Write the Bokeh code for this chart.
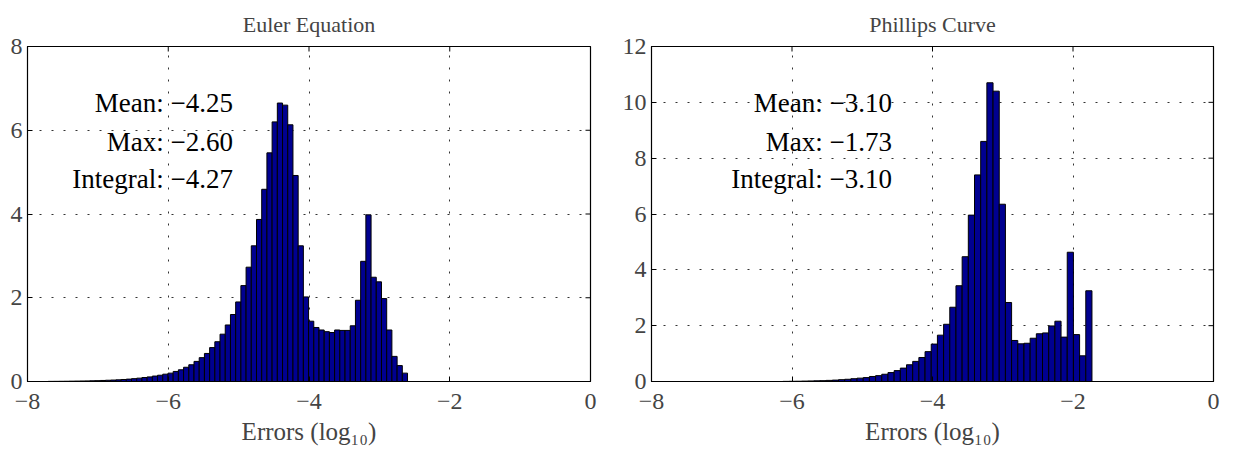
import math
from bokeh.plotting import figure
from bokeh.models import ColumnDataSource, FixedTicker, Range1d
from bokeh.layouts import row
from bokeh.embed import file_html
from bokeh.resources import INLINE
from bokeh.core.properties import value

# ---------------- data ----------------
titles = ["Euler Equation", "Phillips Curve"]
x_label = "Errors (log\u2081\u2080)"
x_ticks = [-8, -6, -4, -2, 0]
euler_y_ticks = [0, 2, 4, 6, 8]
phillips_y_ticks = [0, 2, 4, 6, 8, 10, 12]

stat_names = ["Mean", "Max", "Integral"]
euler_stats = [-4.25, -2.60, -4.27]
phillips_stats = [-3.10, -1.73, -3.10]

# histogram bar heights (left to right); last bin ends at the max error
euler_heights = [0.003, 0.004, 0.005, 0.006, 0.008, 0.010, 0.012, 0.014, 0.017, 0.020,
                 0.025, 0.030, 0.035, 0.040, 0.048, 0.057, 0.068, 0.080, 0.095, 0.11,
                 0.13, 0.15, 0.175, 0.20, 0.24, 0.28, 0.34, 0.40, 0.48, 0.57,
                 0.67, 0.81, 0.95, 1.13, 1.35, 1.60, 1.90, 2.29, 2.73, 3.24,
                 3.87, 4.59, 5.46, 6.20, 6.65, 6.60, 6.13, 4.92, 3.24, 2.02,
                 1.44, 1.29, 1.23, 1.19, 1.17, 1.23, 1.22, 1.22, 1.33, 1.94,
                 2.87, 3.98, 2.49, 2.38, 1.98, 1.23, 0.60, 0.38, 0.20]
euler_bin_width = 0.074

phillips_heights = [0.005, 0.008, 0.010, 0.015, 0.020, 0.025, 0.030, 0.040, 0.050, 0.065,
                    0.08, 0.10, 0.12, 0.14, 0.18, 0.21, 0.26, 0.32, 0.39, 0.48,
                    0.60, 0.72, 0.86, 1.07, 1.34, 1.66, 2.05, 2.66, 3.43, 4.47,
                    5.96, 7.40, 8.60, 10.70, 10.40, 6.35, 2.83, 1.47, 1.35, 1.37,
                    1.55, 1.71, 1.74, 1.99, 2.16, 1.59, 4.63, 1.68, 0.92, 3.25]
phillips_bin_width = 0.088

FONT = "Times"
TEXT_Y_FRAC = [0.830, 0.714, 0.603]


def fmt(v):
    return f"{v:.2f}".replace("-", "\u2212")


def tick_label(t):
    return str(t).replace("-", "\u2212")


def make_panel(title, heights, xmax, w, y_ticks, stats, text_x_frac,
               frame_w, border_left, border_right):
    n = len(heights)
    rights = [xmax - w * (n - 1 - i) for i in range(n)]
    lefts = [r - w for r in rights]
    ymax = y_ticks[-1]
    xmin_axis, xmax_axis = x_ticks[0], x_ticks[-1]

    p = figure(frame_width=frame_w, frame_height=335,
               x_range=Range1d(xmin_axis, xmax_axis), y_range=Range1d(0, ymax),
               output_backend="svg", toolbar_location=None,
               min_border_left=border_left, min_border_right=border_right,
               min_border_top=45, min_border_bottom=64)
    p.background_fill_color = "white"
    p.border_fill_color = "white"
    p.outline_line_color = "black"
    p.outline_line_width = 1.2

    p.title.text = title
    p.title.align = "center"
    p.title.text_font = FONT
    p.title.text_font_style = "normal"
    p.title.text_font_size = "22px"
    p.title.standoff = 19

    src = ColumnDataSource(dict(left=lefts, right=rights, top=heights, bottom=[0] * n))
    p.quad(left="left", right="right", top="top", bottom="bottom", source=src,
           fill_color="#000090", line_color="black", line_width=1)

    # inward tick marks on the top and right edges of the box
    top_src = ColumnDataSource(dict(x=x_ticks, y=[ymax] * len(x_ticks)))
    p.scatter(x="x", y="y", source=top_src, marker="dash", size=10, angle=math.pi / 2,
              line_color="black", line_width=1)
    right_src = ColumnDataSource(dict(x=[xmax_axis] * len(y_ticks), y=y_ticks))
    p.scatter(x="x", y="y", source=right_src, marker="dash", size=10,
              line_color="black", line_width=1)

    # stats text
    tx = xmin_axis + (xmax_axis - xmin_axis) * text_x_frac
    tsrc = ColumnDataSource(dict(
        x=[tx] * 3,
        y=[f * ymax for f in TEXT_Y_FRAC],
        text=[f"{nm}: {fmt(v)}" for nm, v in zip(stat_names, stats)]))
    p.text(x="x", y="y", text="text", source=tsrc, text_align="right",
           text_baseline="alphabetic", text_font=value(FONT),
           text_font_size="27px", text_color="black")

    for ax in (p.xaxis[0], p.yaxis[0]):
        ax.major_label_text_font = FONT
        ax.major_label_text_font_size = "24px"
        ax.major_tick_in = 5
        ax.major_tick_out = 0
        ax.minor_tick_in = 0
        ax.minor_tick_out = 0
        ax.axis_line_color = "black"
        ax.major_tick_line_color = "black"

    p.xaxis.ticker = FixedTicker(ticks=x_ticks)
    p.xaxis.major_label_overrides = {t: tick_label(t) for t in x_ticks}
    p.xaxis.major_label_standoff = 12
    p.xaxis.axis_label = x_label
    p.xaxis.axis_label_text_font = FONT
    p.xaxis.axis_label_text_font_style = "normal"
    p.xaxis.axis_label_text_font_size = "25px"
    p.xaxis.axis_label_standoff = 6

    p.yaxis.ticker = FixedTicker(ticks=y_ticks)
    p.yaxis.major_label_standoff = 5

    for g in (p.xgrid[0], p.ygrid[0]):
        g.grid_line_color = "#333333"
        g.grid_line_dash = "2 10"
        g.grid_line_width = 1
    p.xgrid.ticker = FixedTicker(ticks=x_ticks)
    p.ygrid.ticker = FixedTicker(ticks=y_ticks)
    return p


p1 = make_panel(titles[0], euler_heights, euler_stats[1], euler_bin_width,
                euler_y_ticks, euler_stats, 0.365, 563, 27, 20)
p2 = make_panel(titles[1], phillips_heights, phillips_stats[1], phillips_bin_width,
                phillips_y_ticks, phillips_stats, 0.428, 562, 41, 12)

layout = row(p1, p2)
open("out.html", "w").write(file_html(layout, INLINE))
